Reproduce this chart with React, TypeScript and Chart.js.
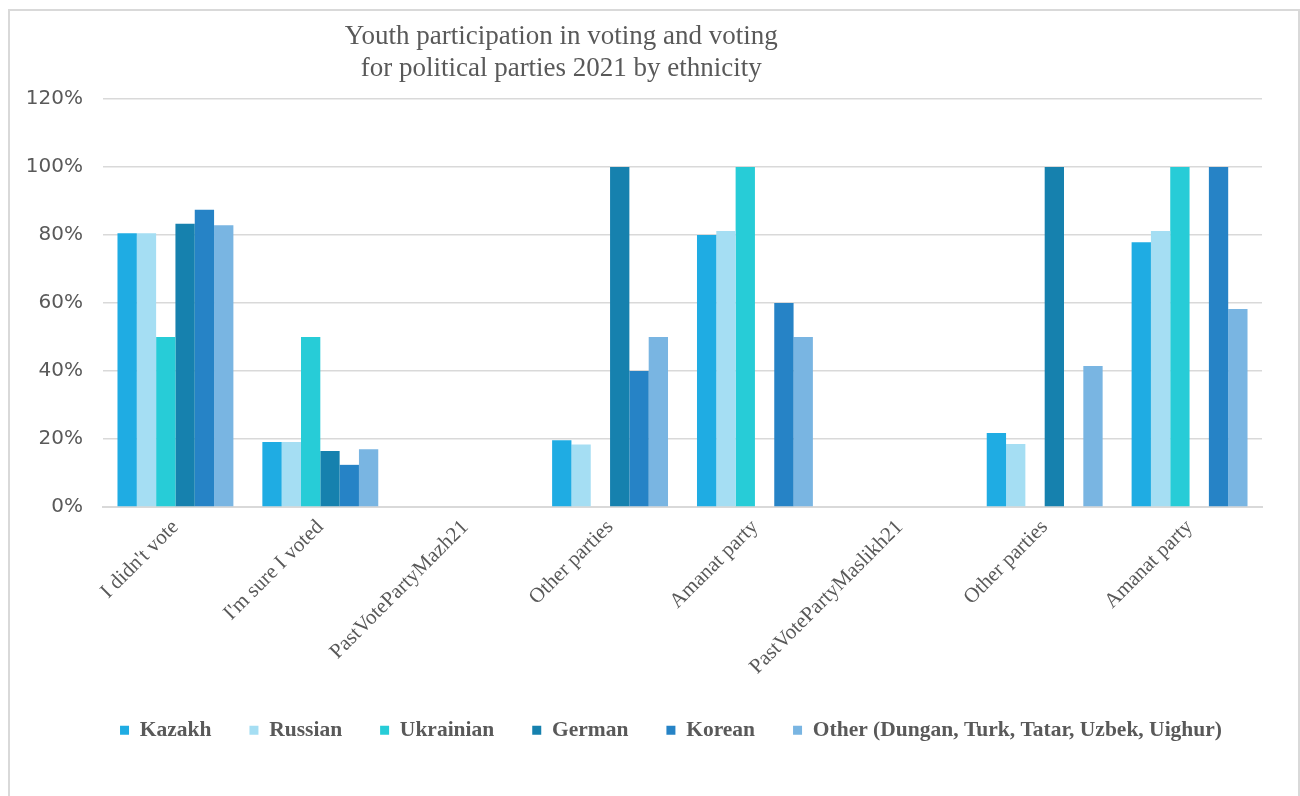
import React, { useEffect, useRef } from "react";
import { Chart, registerables } from "chart.js";

Chart.register(...registerables);

const titleLines = [
  "Youth participation in voting and voting",
  "for political parties 2021 by ethnicity",
];

const categories = [
  "I didn't vote",
  "I'm sure I voted",
  "PastVotePartyMazh21",
  "Other parties",
  "Amanat party",
  "PastVotePartyMaslikh21",
  "Other parties",
  "Amanat party",
];

const seriesNames = [
  "Kazakh",
  "Russian",
  "Ukrainian",
  "German",
  "Korean",
  "Other (Dungan, Turk, Tatar, Uzbek, Uighur)",
];

const kazakh = [80.5, 19.1, null, 19.6, 80.0, null, 21.8, 77.9];
const russian = [80.5, 19.1, null, 18.4, 81.2, null, 18.5, 81.2];
const ukrainian = [50, 50, null, 0, 100, null, 0, 100];
const german = [83.3, 16.5, null, 100, 0, null, 100, 0];
const korean = [87.4, 12.4, null, 40, 60, null, 0, 100];
const other = [82.9, 17.0, null, 50, 50, null, 41.5, 58.2];

const seriesColors = ["#1FACE3", "#A5DEF3", "#27CCD7", "#1681AE", "#2683C6", "#79B5E2"];

const yTicks = [0, 20, 40, 60, 80, 100, 120];

const TEXT = "#595959";
const GRID = "#D9D9D9";
const SERIF = '"Liberation Serif", "Times New Roman", serif';

// Two-line chart title, placed left of centre above the plot.
const titlePlugin = {
  id: "twoLineTitle",
  afterDraw(chart: Chart) {
    const { ctx } = chart;
    ctx.save();
    ctx.font = `27px ${SERIF}`;
    ctx.fillStyle = TEXT;
    ctx.textAlign = "center";
    ctx.textBaseline = "middle";
    const x = chart.width * 0.428;
    titleLines.forEach((line, i) => ctx.fillText(line, x, 26 + i * 32));
    ctx.restore();
  },
};

// Nudge the legend row so it is centred under the plot area rather than the canvas.
const legendShiftPlugin = {
  id: "legendShift",
  afterLayout(chart: any) {
    const lg = chart.legend;
    if (lg) {
      lg.left += 17;
      lg.right += 17;
    }
  },
};

export default function App() {
  const canvasRef = useRef<HTMLCanvasElement | null>(null);

  useEffect(() => {
    document.body.style.overflow = "hidden";
    const values = [kazakh, russian, ukrainian, german, korean, other];
    const chart = new Chart(canvasRef.current as HTMLCanvasElement, {
      type: "bar",
      data: {
        labels: categories,
        datasets: seriesNames.map((name, i) => ({
          label: name,
          data: values[i],
          backgroundColor: seriesColors[i],
          borderWidth: 0,
          categoryPercentage: 0.8,
          barPercentage: 1.0,
        })),
      },
      options: {
        animation: false,
        responsive: true,
        maintainAspectRatio: false,
        layout: { padding: { left: 0, right: 0, top: 88, bottom: 46 } },
        plugins: {
          title: { display: false },
          tooltip: { enabled: false },
          legend: {
            position: "bottom",
            labels: {
              boxWidth: 9,
              boxHeight: 9,
              padding: 38,
              color: TEXT,
              font: { family: SERIF, size: 21.5, weight: "bold" },
            },
          },
        },
        scales: {
          x: {
            grid: { display: false },
            border: { display: true, color: GRID, width: 2 },
            ticks: {
              color: TEXT,
              maxRotation: 45,
              minRotation: 45,
              autoSkip: false,
              padding: 0,
              font: { family: SERIF, size: 21 },
            },
            afterFit: (s: any) => {
              s.height = 174.5;
            },
          },
          y: {
            min: 0,
            max: 120,
            afterBuildTicks: (s: any) => {
              s.ticks = yTicks.map((v) => ({ value: v }));
            },
            grid: { color: GRID, lineWidth: 1.5, drawTicks: false },
            border: { display: false },
            ticks: {
              color: TEXT,
              padding: 20,
              font: { family: '"DejaVu Sans", sans-serif', size: 20 },
              callback: (v: any) => `${v}%`,
            },
            afterFit: (s: any) => {
              s.width = 93;
            },
          },
          yRight: {
            position: "right",
            display: true,
            grid: { display: false },
            border: { display: false },
            ticks: { display: false },
            afterFit: (s: any) => {
              s.width = 36;
            },
          },
        },
      },
      plugins: [titlePlugin, legendShiftPlugin],
    });
    return () => chart.destroy();
  }, []);

  return (
    <div
      style={{
        position: "fixed",
        left: 8,
        top: 9,
        width: 1292,
        height: 800,
        boxSizing: "border-box",
        borderLeft: "2px solid #D9D9D9",
        borderTop: "2px solid #D9D9D9",
        borderRight: "2px solid #D9D9D9",
        background: "#fff",
      }}
    >
      <div style={{ position: "relative", width: 1288, height: 786 }}>
        <canvas ref={canvasRef} />
      </div>
    </div>
  );
}
